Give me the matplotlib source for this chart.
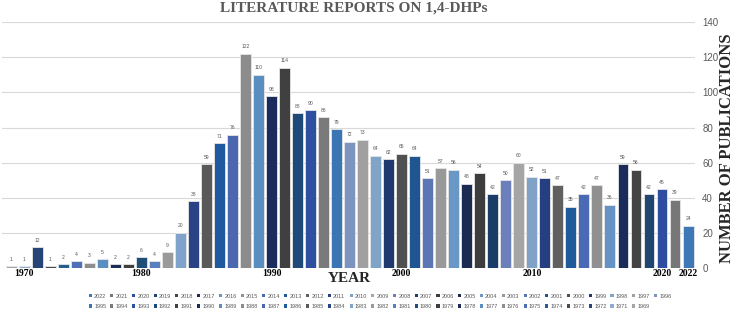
import matplotlib.pyplot as plt
from matplotlib.patches import Patch

years = [1969] + list(range(1971, 2023))
pubs = [1, 1, 12, 1, 2, 4, 3, 5, 2, 2, 6, 4, 9, 20, 38, 59, 71, 76, 122, 110,
        98, 114, 88, 90, 86, 79, 72, 73, 64, 62, 65, 64, 51, 57, 56, 48, 54, 42,
        50, 60, 52, 51, 47, 35, 42, 47, 36, 59, 56, 42, 45, 39, 24]
tick_years = [1970, 1980, 1990, 2000, 2010, 2020, 2022]
tick_pos = [1, 10, 20, 30, 40, 50, 52]

colors = ["#a5a5a5", "#8fabd0", "#264478", "#4a4a4a", "#255e91", "#4e6eb5",
          "#8e8e8e", "#5b8fc1", "#1c2c55", "#3f3f3f", "#1f4e79", "#5a7fbf",
          "#9a9a9a", "#7fa3cb", "#2a4384", "#595959", "#1f5aa0", "#4a67b0",
          "#8c8c8c", "#5b8ec0", "#1a2b5c", "#404040", "#1e4a7a", "#2f4f9f",
          "#7a7a7a", "#3a75b4", "#7d93c0", "#a0a0a0", "#7fa4c8", "#20386e",
          "#505050", "#1f5590", "#5b75b5", "#999999", "#6a98c6", "#1b2a52",
          "#3d3d3d", "#193d66", "#6b7fbb", "#a5a5a5", "#7fa2c6", "#253f80",
          "#606060", "#1f5a9a", "#4a6ab5", "#909090", "#6593c5", "#1b2c5a",
          "#444444", "#1f4570", "#2f4da0", "#777777", "#3f78b7"]

fig = plt.figure(figsize=(7.38, 3.12), dpi=100)
ax = fig.add_axes([0.003, 0.141, 0.939, 0.788])

x = list(range(len(years)))
bars = ax.bar(x, pubs, width=0.84, color=colors, edgecolor="#e6e6e6",
              linewidth=0.6, zorder=3)
for xi, v in zip(x, pubs):
    ax.text(xi, v + 2.5, str(v), ha="center", va="bottom", fontsize=3.6,
            color="#595959", family="Liberation Sans")

ax.set_xlim(-0.7, 52.55)
ax.set_ylim(0, 140)
ax.set_yticks(range(0, 141, 20))
ax.yaxis.tick_right()
ax.tick_params(axis="y", length=0, pad=5, labelsize=7, labelcolor="#595959")
for lab in ax.get_yticklabels():
    lab.set_family("Liberation Sans")
ax.grid(axis="y", color="#d9d9d9", linewidth=0.8, zorder=0)
for s in ax.spines.values():
    s.set_visible(False)

ax.set_xticks(tick_pos)
ax.set_xticklabels([str(t) for t in tick_years])
ax.tick_params(axis="x", length=0, pad=1, labelsize=7)
for lab in ax.get_xticklabels():
    lab.set_family("Liberation Serif")
    lab.set_fontweight("bold")

fig.text(0.479, 0.975, "LITERATURE REPORTS ON 1,4-DHPs", ha="center", va="center",
         fontsize=11, fontweight="bold", family="Liberation Serif", color="#595959")
fig.text(0.474, 0.106, "YEAR", ha="center", va="center", fontsize=11,
         fontweight="bold", family="Liberation Serif", color="#262626")
fig.text(0.985, 0.526, "NUMBER OF PUBLICATIONS", ha="center", va="center",
         rotation=90, fontsize=12, fontweight="bold", family="Liberation Serif",
         color="#262626")

# legend: newest year first, two rows, row-major order
order = list(range(len(years) - 1, -1, -1))
handles = [Patch(facecolor=colors[i], edgecolor="none") for i in order]
labels = [str(years[i]) for i in order]
ncol = 27
row1_h, row2_h = handles[:ncol], handles[ncol:]
row1_l, row2_l = labels[:ncol], labels[ncol:]
hh, ll = [], []
for j in range(ncol):
    hh.append(row1_h[j]); ll.append(row1_l[j])
    if j < len(row2_h):
        hh.append(row2_h[j]); ll.append(row2_l[j])
leg = fig.legend(hh, ll, ncol=ncol, loc="upper center",
                 bbox_to_anchor=(0.515, 0.068), frameon=False,
                 prop={"family": "Liberation Sans", "size": 4},
                 handlelength=0.55, handleheight=0.55, handletextpad=0.4,
                 columnspacing=0.74, labelspacing=1.0, borderpad=0)
for t in leg.get_texts():
    t.set_color("#595959")

fig.savefig("out.png", dpi=100)
